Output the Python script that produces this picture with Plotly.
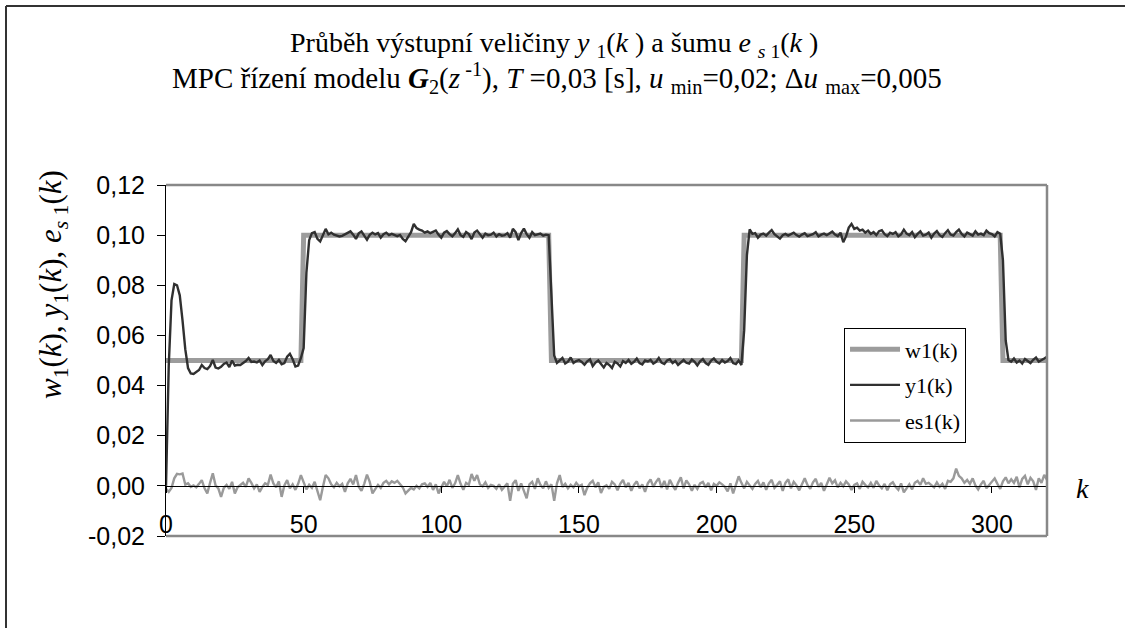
import plotly.graph_objects as go

# --- data -------------------------------------------------------------
# reference signal w1(k): step profile given by its breakpoints
w1_k = [0, 49, 50, 139, 140, 209, 210, 303, 304, 320]
w1 = [0.05, 0.05, 0.10, 0.10, 0.05, 0.05, 0.10, 0.10, 0.05, 0.05]

k = list(range(321))

# controlled output y1(k)
y1 = [
    0.0000, 0.0480, 0.0740, 0.0805, 0.0800, 0.0760, 0.0660, 0.0545, 0.0470, 0.0448,
    0.0446, 0.0455, 0.0462, 0.0482, 0.0470, 0.0466, 0.0478, 0.0502, 0.0472, 0.0468,
    0.0475, 0.0486, 0.0492, 0.0474, 0.0500, 0.0480, 0.0483, 0.0482, 0.0490, 0.0498,
    0.0510, 0.0494, 0.0496, 0.0492, 0.0500, 0.0482, 0.0497, 0.0505, 0.0522, 0.0498,
    0.0490, 0.0502, 0.0485, 0.0490, 0.0515, 0.0527, 0.0505, 0.0476, 0.0480, 0.0510,
    0.0550, 0.0850, 0.0980, 0.1008, 0.1012, 0.0985, 0.0975, 0.1000, 0.1025, 0.1003,
    0.1010, 0.1002, 0.0998, 0.0995, 0.0997, 0.1004, 0.1008, 0.1015, 0.1002, 0.0985,
    0.1007, 0.1015, 0.0998, 0.0982, 0.1001, 0.1010, 0.1003, 0.1008, 0.0990, 0.1004,
    0.1010, 0.1000, 0.1005, 0.1002, 0.0996, 0.1001, 0.0985, 0.0976, 0.0993, 0.1012,
    0.1045, 0.1028, 0.1022, 0.1018, 0.1010, 0.1015, 0.1008, 0.1012, 0.1018, 0.1002,
    0.0990, 0.1010, 0.1016, 0.1004, 0.0995, 0.1008, 0.1023, 0.1000, 0.0993, 0.1012,
    0.1004, 0.0984, 0.1010, 0.1018, 0.1002, 0.0990, 0.1006, 0.1000, 0.1002, 0.1010,
    0.0995, 0.1004, 0.0998, 0.1000, 0.1008, 0.0990, 0.1025, 0.1012, 0.0980, 0.1008,
    0.1026, 0.1004, 0.0990, 0.1012, 0.1000, 0.1003, 0.1006, 0.0998, 0.1002, 0.1000,
    0.0780, 0.0520, 0.0490, 0.0502, 0.0510, 0.0488, 0.0495, 0.0512, 0.0490, 0.0498,
    0.0502, 0.0494, 0.0483, 0.0497, 0.0505, 0.0478, 0.0492, 0.0500, 0.0486, 0.0472,
    0.0490, 0.0482, 0.0470, 0.0495, 0.0488, 0.0476, 0.0498, 0.0490, 0.0502, 0.0487,
    0.0495, 0.0508, 0.0490, 0.0484, 0.0500, 0.0496, 0.0503, 0.0488, 0.0495, 0.0510,
    0.0492, 0.0486, 0.0500, 0.0505, 0.0490, 0.0498, 0.0482, 0.0494, 0.0502, 0.0491,
    0.0488, 0.0504, 0.0495, 0.0480, 0.0497, 0.0506, 0.0490, 0.0483, 0.0500, 0.0508,
    0.0495, 0.0488, 0.0502, 0.0492, 0.0498, 0.0510, 0.0490, 0.0486, 0.0500, 0.0482,
    0.0620, 0.0920, 0.1023, 0.1005, 0.1008, 0.0990, 0.1002, 0.1006, 0.0998, 0.1010,
    0.1020, 0.1004, 0.0995, 0.0986, 0.1000, 0.1005, 0.0998, 0.1003, 0.1010, 0.1000,
    0.0994, 0.1002, 0.1008, 0.0996, 0.1000, 0.1004, 0.1012, 0.0995, 0.1002, 0.1006,
    0.1000, 0.1008, 0.1014, 0.1002, 0.0996, 0.1010, 0.0972, 0.0995, 0.1030, 0.1045,
    0.1025, 0.1030, 0.1018, 0.1022, 0.1010, 0.1018, 0.1005, 0.1012, 0.1000, 0.1016,
    0.1020, 0.1004, 0.0996, 0.1010, 0.1005, 0.1012, 0.0995, 0.1003, 0.1022, 0.1006,
    0.1000, 0.1012, 0.0992, 0.1005, 0.1015, 0.0998, 0.1002, 0.1010, 0.0990, 0.1006,
    0.1016, 0.1000, 0.0993, 0.1008, 0.1020, 0.1002, 0.0998, 0.1012, 0.1022, 0.1005,
    0.0995, 0.1010, 0.1003, 0.0998, 0.1015, 0.1002, 0.1006, 0.1000, 0.1018, 0.1008,
    0.1004, 0.0995, 0.1012, 0.1006, 0.0900, 0.0580, 0.0502, 0.0495, 0.0508, 0.0492,
    0.0500, 0.0488, 0.0506, 0.0498, 0.0490, 0.0503, 0.0512, 0.0495, 0.0500, 0.0508,
    0.0515,
]

# measurement noise es1(k)
es1 = [
    -0.0012, -0.0024, -0.0008, 0.0030, 0.0048, 0.0046, 0.0049, 0.0005, 0.0010, -0.0004,
    0.0002, -0.0006, 0.0008, 0.0023, -0.0010, -0.0030, 0.0012, 0.0050, 0.0002, -0.0010,
    -0.0044, -0.0008, 0.0004, -0.0012, 0.0016, -0.0030, -0.0006, 0.0004, 0.0012, -0.0004,
    0.0030, 0.0012, -0.0010, 0.0006, -0.0024, -0.0004, 0.0010, 0.0004, 0.0045, 0.0010,
    -0.0006, 0.0018, -0.0044, 0.0002, 0.0023, -0.0010, 0.0006, -0.0016, 0.0008, 0.0043,
    0.0012, -0.0014, 0.0004, -0.0008, 0.0016, -0.0020, -0.0057, -0.0004, 0.0043, 0.0030,
    0.0006, -0.0006, 0.0012, -0.0002, 0.0008, -0.0024, 0.0010, 0.0028, 0.0006, 0.0043,
    -0.0004, -0.0020, 0.0008, 0.0045, 0.0016, -0.0030, -0.0010, 0.0004, -0.0008, 0.0012,
    0.0020, 0.0006, 0.0018, 0.0012, 0.0020, 0.0008, -0.0006, -0.0030, -0.0018, -0.0008,
    -0.0014, 0.0000, -0.0010, 0.0006, 0.0010, -0.0004, 0.0012, -0.0016, 0.0006, -0.0030,
    -0.0006, 0.0016, -0.0002, 0.0024, -0.0008, 0.0010, 0.0043, 0.0008, -0.0016, 0.0012,
    0.0004, 0.0047, 0.0020, 0.0043, 0.0006, -0.0002, 0.0014, -0.0008, 0.0004, 0.0000,
    -0.0012, 0.0006, -0.0016, -0.0004, 0.0010, -0.0060, 0.0008, 0.0023, -0.0020, 0.0010,
    -0.0024, -0.0050, 0.0006, 0.0016, -0.0012, 0.0030, 0.0004, -0.0010, 0.0018, -0.0008,
    0.0006, -0.0060, 0.0010, 0.0043, -0.0004, 0.0008, -0.0010, 0.0004, -0.0006, 0.0012,
    -0.0002, 0.0004, -0.0037, -0.0008, 0.0010, 0.0020, -0.0006, 0.0014, -0.0028, -0.0004,
    0.0002, -0.0012, 0.0016, 0.0006, -0.0018, 0.0008, 0.0024, -0.0006, 0.0012, -0.0020,
    0.0004, 0.0018, -0.0010, 0.0006, -0.0024, 0.0010, 0.0026, -0.0004, 0.0016, 0.0030,
    -0.0008, 0.0020, -0.0014, 0.0024, 0.0002, -0.0016, 0.0012, 0.0034, -0.0010, 0.0022,
    0.0006, -0.0020, 0.0004, -0.0012, 0.0010, 0.0016, -0.0006, 0.0012, -0.0018, 0.0008,
    0.0000, 0.0014, 0.0006, -0.0004, -0.0022, 0.0010, -0.0030, 0.0004, 0.0038, 0.0012,
    -0.0010, 0.0016, 0.0004, -0.0012, 0.0008, 0.0020, -0.0006, 0.0014, -0.0016, 0.0010,
    0.0024, -0.0008, 0.0004, 0.0018, -0.0020, 0.0012, 0.0026, -0.0010, 0.0016, 0.0002,
    -0.0018, 0.0010, 0.0030, 0.0004, -0.0012, 0.0014, 0.0028, -0.0004, 0.0012, -0.0020,
    0.0008, 0.0032, 0.0010, 0.0022, -0.0006, 0.0012, -0.0002, 0.0018, 0.0006, -0.0016,
    0.0004, 0.0010, -0.0012, 0.0016, 0.0004, -0.0006, 0.0012, -0.0008, 0.0020, 0.0002,
    -0.0010, 0.0008, -0.0018, 0.0006, 0.0014, -0.0004, -0.0016, 0.0010, -0.0026, -0.0010,
    0.0006, -0.0014, 0.0012, 0.0020, 0.0004, 0.0030, 0.0008, 0.0012, 0.0004, -0.0006,
    0.0014, -0.0004, 0.0008, -0.0012, 0.0020, 0.0016, 0.0030, 0.0069, 0.0040, 0.0030,
    0.0012, 0.0024, 0.0008, 0.0030, 0.0002, -0.0014, 0.0006, 0.0020, -0.0010, 0.0002,
    0.0014, 0.0030, 0.0008, -0.0012, 0.0018, 0.0034, 0.0010, 0.0026, 0.0012, 0.0036,
    -0.0006, 0.0028, 0.0040, 0.0006, 0.0032, 0.0018, -0.0016, 0.0030, 0.0012, 0.0044,
    0.0024,
]

x_ticks = [0, 50, 100, 150, 200, 250, 300]
y_ticks = [-0.02, 0.0, 0.02, 0.04, 0.06, 0.08, 0.10, 0.12]
y_tick_text = ["-0,02", "0,00", "0,02", "0,04", "0,06", "0,08", "0,10", "0,12"]

SANS = "Liberation Sans, Arial, sans-serif"
SERIF = "Liberation Serif, Times New Roman, serif"

fig = go.Figure()
fig.add_trace(go.Scatter(x=w1_k, y=w1, mode="lines", name="w1(k)",
                         line=dict(color="#9c9c9c", width=5),
                         legendgroup="a"))
fig.add_trace(go.Scatter(x=k, y=y1, mode="lines", name="y1(k)",
                         line=dict(color="#303030", width=2.4),
                         legendgroup="b"))
fig.add_trace(go.Scatter(x=k, y=es1, mode="lines", name="es1(k)",
                         line=dict(color="#9a9a9a", width=2.4),
                         legendgroup="c"))

y_lo, y_hi = -0.02, 0.12
zero_pos = (0 - y_lo) / (y_hi - y_lo)

fig.update_layout(
    width=1125, height=628,
    margin=dict(l=166, r=78, t=185, b=92),
    paper_bgcolor="white", plot_bgcolor="white",
    showlegend=True,
    legend=dict(
        x=0.7696, y=0.594, xanchor="left", yanchor="top",
        bgcolor="white", bordercolor="#000000", borderwidth=1,
        font=dict(family=SERIF, size=22, color="black"),
        tracegroupgap=4, itemwidth=50,
    ),
    xaxis=dict(
        range=[0, 320], anchor="free", position=zero_pos,
        showgrid=False, zeroline=False,
        showline=True, linecolor="black", linewidth=1,
        ticks="outside", ticklen=6, tickcolor="black", tickwidth=1,
        tickvals=x_ticks, ticktext=[str(v) for v in x_ticks],
        ticklabelstandoff=10,
        tickfont=dict(family=SANS, size=25, color="black"),
    ),
    yaxis=dict(
        range=[y_lo, y_hi], showgrid=False, zeroline=False,
        showline=True, linecolor="black", linewidth=1,
        ticks="outside", ticklen=8, tickcolor="black", tickwidth=1,
        tickvals=y_ticks, ticktext=y_tick_text,
        ticklabelstandoff=7,
        tickfont=dict(family=SANS, size=25, color="black"),
    ),
)

# grey frame of the plot area (top, right, bottom)
border = dict(color="#888888", width=2.5)
fig.add_shape(type="line", xref="paper", yref="paper", x0=0, x1=1, y0=1, y1=1, line=border)
fig.add_shape(type="line", xref="paper", yref="paper", x0=1, x1=1, y0=0, y1=1, line=border)
fig.add_shape(type="line", xref="paper", yref="paper", x0=0, x1=1, y0=0, y1=0, line=border)

pw, ph = 881, 351


def px_x(p):
    return (p - 166) / pw


def px_y(p):
    return 1 - (p - 185) / ph


# outer chart frame (top and left edges, running off the page)
frame = dict(color="#333333", width=2)
fig.add_shape(type="line", xref="paper", yref="paper",
              x0=px_x(6), x1=px_x(1125), y0=px_y(6), y1=px_y(6), line=frame)
fig.add_shape(type="line", xref="paper", yref="paper",
              x0=px_x(6), x1=px_x(6), y0=px_y(6), y1=px_y(628), line=frame)

title1 = ("Průběh výstupní veličiny <i>y</i> <sub>1</sub>(<i>k</i> ) a šumu "
          "<i>e</i> <sub><i>s</i> 1</sub>(<i>k</i> )")
title2 = ("MPC řízení modelu <b><i>G</i></b><sub>2</sub>(<i>z</i><sup> -1</sup>), "
          "<i>T</i> =0,03 [s], <i>u</i> <sub>min</sub>=0,02; "
          "Δ<i>u</i> <sub>max</sub>=0,005")
ytitle = ("<i>w</i><sub>1</sub>(<i>k</i>), <i>y</i><sub>1</sub>(<i>k</i>), "
          "<i>e</i><sub><i>s</i> 1</sub>(<i>k</i>)")

fig.add_annotation(text=title1, xref="paper", yref="paper",
                   x=px_x(554), y=px_y(45), xanchor="center", yanchor="middle",
                   showarrow=False, font=dict(family=SERIF, size=28, color="black"))
fig.add_annotation(text=title2, xref="paper", yref="paper",
                   x=px_x(557), y=px_y(78), xanchor="center", yanchor="middle",
                   showarrow=False, font=dict(family=SERIF, size=29, color="black"))
fig.add_annotation(text=ytitle, xref="paper", yref="paper", textangle=-90,
                   x=px_x(53), y=px_y(285), xanchor="center", yanchor="middle",
                   showarrow=False, font=dict(family=SERIF, size=31, color="black"))
fig.add_annotation(text="<i>k</i>", xref="paper", yref="paper",
                   x=px_x(1082), y=px_y(488), xanchor="center", yanchor="middle",
                   showarrow=False, font=dict(family=SERIF, size=28, color="black"))

fig.write_html("out.html")
